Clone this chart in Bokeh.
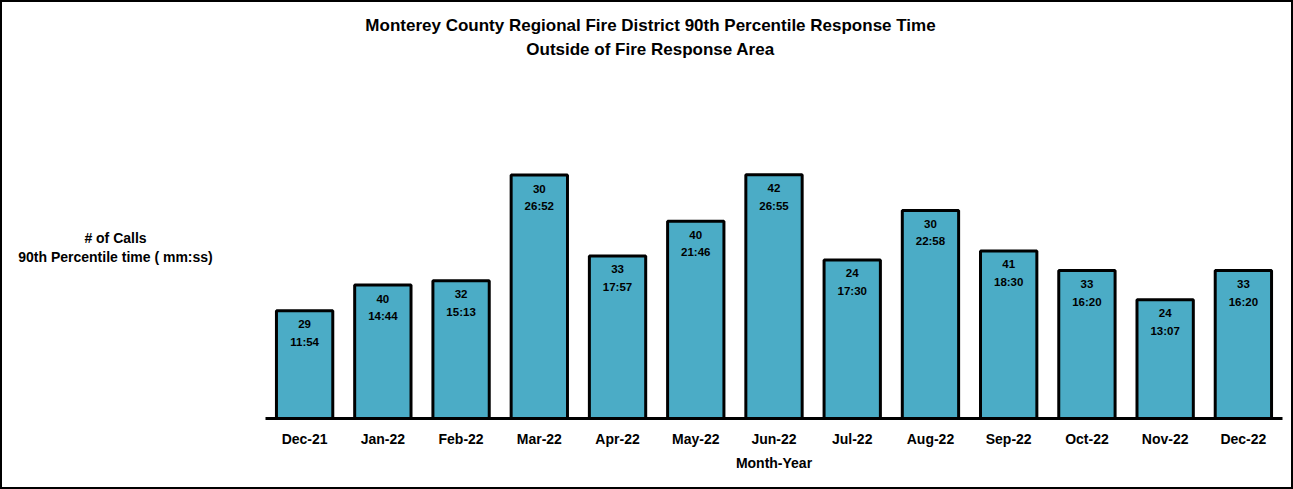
from bokeh.plotting import figure
from bokeh.layouts import row
from bokeh.models import ColumnDataSource, LabelSet, Label, FixedTicker, Range1d
from bokeh.core.properties import value
from bokeh.embed import file_html
from bokeh.resources import INLINE

months = ["Dec-21", "Jan-22", "Feb-22", "Mar-22", "Apr-22", "May-22", "Jun-22",
          "Jul-22", "Aug-22", "Sep-22", "Oct-22", "Nov-22", "Dec-22"]
calls = [29, 40, 32, 30, 33, 40, 42, 24, 30, 41, 33, 24, 33]
times = ["11:54", "14:44", "15:13", "26:52", "17:57", "21:46", "26:55",
         "17:30", "22:58", "18:30", "16:20", "13:07", "16:20"]
minutes = [int(t.split(":")[0]) + int(t.split(":")[1]) / 60 for t in times]

title_lines = ["Monterey County Regional Fire District 90th Percentile Response Time",
               "Outside of Fire Response Area"]
ylabel_lines = ["# of Calls", "90th Percentile time ( mm:ss)"]
xlabel = "Month-Year"

FONT = "Liberation Sans"
BAR = "#4BACC6"

pos = list(range(len(months)))
src = ColumnDataSource(dict(x=pos, months=months, minutes=minutes,
                            calls=[str(c) for c in calls], times=times))

# left panel with the horizontal value-axis caption
left = figure(width=263, height=485, x_range=Range1d(0, 1), y_range=Range1d(0, 1),
              output_backend="svg", toolbar_location=None,
              x_axis_location=None, y_axis_location=None,
              min_border_left=0, min_border_right=0,
              min_border_top=0, min_border_bottom=0)
left.outline_line_color = None
left.grid.visible = False
left.background_fill_color = "white"
left.border_fill_color = "white"

for txt, y in zip(ylabel_lines, (181, 161.5)):
    left.add_layout(Label(x=113, y=y, x_units="screen", y_units="screen", text=txt,
                          text_align="center", text_baseline="alphabetic",
                          text_font=FONT, text_font_style="bold",
                          text_font_size="14px", text_color="black"))

# main chart
p = figure(width=1026, height=485,
           x_range=Range1d(-0.5, 12.5), y_range=Range1d(0, 45.92),
           output_backend="svg", toolbar_location=None,
           min_border_left=0, min_border_right=9,
           min_border_top=0, min_border_bottom=69)
p.background_fill_color = "white"
p.border_fill_color = "white"
p.outline_line_color = None
p.grid.visible = False
p.yaxis.visible = False

p.vbar(x="x", top="minutes", width=0.72, bottom=0, source=src,
       fill_color=BAR, line_color="black", line_width=3)

xa = p.xaxis[0]
xa.ticker = FixedTicker(ticks=pos)
xa.major_label_overrides = {i: m for i, m in zip(pos, months)}
xa.axis_line_width = 3
xa.axis_line_color = "black"
xa.major_tick_line_color = None
xa.minor_tick_line_color = None
xa.major_tick_out = 0
xa.major_tick_in = 0
xa.major_label_standoff = 12
xa.major_label_text_font = FONT
xa.major_label_text_font_style = "bold"
xa.major_label_text_font_size = "14px"
xa.major_label_text_color = "black"
xa.axis_label = xlabel
xa.axis_label_standoff = 5
xa.axis_label_text_font = FONT
xa.axis_label_text_font_style = "bold"
xa.axis_label_text_font_size = "14px"
xa.axis_label_text_color = "black"

for col, off in (("calls", -17.5), ("times", -35)):
    p.add_layout(LabelSet(x="x", y="minutes", text=col, source=src,
                          y_offset=off, text_align="center", text_baseline="alphabetic",
                          text_font=value(FONT), text_font_style="bold",
                          text_font_size="11.5px", text_color="black"))

for txt, y in zip(title_lines, (392.7, 369.5)):
    p.add_layout(Label(x=385, y=y, x_units="screen", y_units="screen", text=txt,
                       text_align="center", text_baseline="alphabetic",
                       text_font=FONT, text_font_style="bold",
                       text_font_size="17px", text_color="black"))

layout = row(left, p, spacing=0)
layout.styles = {"border": "2px solid black"}

open("out.html", "w").write(file_html(layout, INLINE))
